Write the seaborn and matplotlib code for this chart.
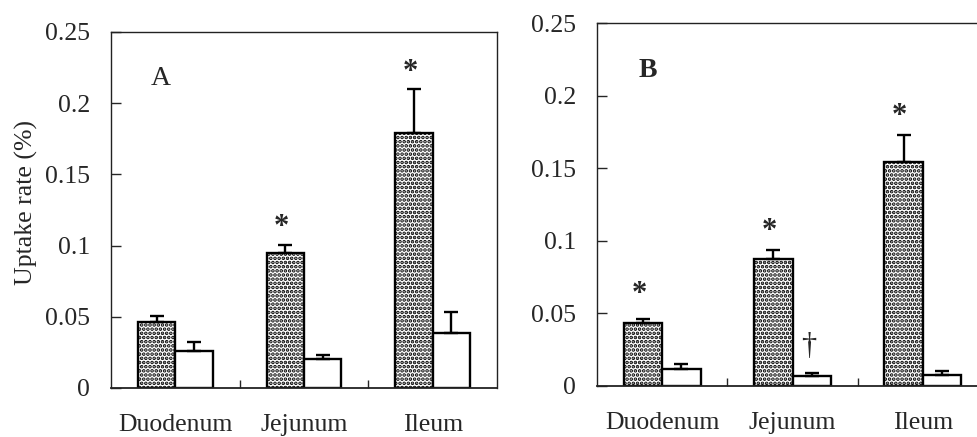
import numpy as np
import pandas as pd
import seaborn as sns
import matplotlib.pyplot as plt

# Dados
segmentos = ['Duodenum', 'Jejunum', 'Ileum']
grupos = ['pontilhado', 'branco']

# Painel A
a_media_pont = [0.0466, 0.0946, 0.1793]
a_erro_pont = [0.0040, 0.0058, 0.0310]
a_media_branco = [0.0262, 0.0204, 0.0386]
a_erro_branco = [0.0063, 0.0030, 0.0145]

# Painel B
b_media_pont = [0.0436, 0.0872, 0.1545]
b_erro_pont = [0.0025, 0.0065, 0.0184]
b_media_branco = [0.0119, 0.0071, 0.0076]
b_erro_branco = [0.0035, 0.0021, 0.0025]

# marcas de significância: (segmento, grupo, altura, símbolo)
a_marcas = [('Jejunum', 'pontilhado', 0.1125, '*'), ('Ileum', 'pontilhado', 0.2213, '*')]
b_marcas = [('Duodenum', 'pontilhado', 0.063, '*'), ('Jejunum', 'pontilhado', 0.1066, '*'),
            ('Ileum', 'pontilhado', 0.1858, '*'), ('Jejunum', 'branco', 0.027, '\u2020')]

yticks = [0, 0.05, 0.1, 0.15, 0.2, 0.25]
ytick_labels = ['0', '0.05', '0.1', '0.15', '0.2', '0.25']

sns.set_style('white')
plt.rcParams['font.family'] = ['Liberation Serif', 'DejaVu Serif']
plt.rcParams['hatch.linewidth'] = 1.8
plt.rcParams['hatch.color'] = 'black'


def montar_tabela(media_pont, media_branco, erro_pont, erro_branco):
    return pd.DataFrame({
        'segmento': segmentos * 2,
        'grupo': [grupos[0]] * 3 + [grupos[1]] * 3,
        'valor': media_pont + media_branco,
        'erro': erro_pont + erro_branco,
    })


def plotar_painel(ax, dados, marcas, letra, largura, ylabel):
    sns.barplot(data=dados, x='segmento', y='valor', hue='grupo', order=segmentos,
                hue_order=grupos, palette=['white', 'white'], edgecolor='black',
                linewidth=1.7, width=largura, errorbar=None, legend=False, ax=ax)
    # pontilhado nas barras do primeiro grupo
    n = len(segmentos)
    for i, barra in enumerate(ax.patches[:2 * n]):
        if i < n:
            barra.set_hatch('....')
    # barras de erro (apenas para cima)
    posicoes = {}
    for i, barra in enumerate(ax.patches[:2 * n]):
        g = grupos[i // n]
        s = segmentos[i % n]
        x = barra.get_x() + barra.get_width() / 2
        posicoes[(s, g)] = x
        linha = dados[(dados.segmento == s) & (dados.grupo == g)].iloc[0]
        ax.errorbar(x, linha.valor, yerr=[[0], [linha.erro]], fmt='none',
                    ecolor='black', elinewidth=1.7, capsize=5, capthick=1.7, zorder=1)
    for s, g, altura, simbolo in marcas:
        if simbolo == '*':
            ax.text(posicoes[(s, g)] - 0.03, altura, simbolo, ha='center', va='center',
                    fontsize=22, fontweight='bold')
        else:
            ax.text(posicoes[(s, g)] - 0.02, altura, simbolo, ha='center', va='center',
                    fontsize=22)
    ax.text(0.13, 0.87, letra, transform=ax.transAxes, ha='center', va='center',
            fontsize=20, fontweight='bold' if letra == 'B' else 'normal')

    ax.set_xlim(-0.5, 2.5)
    ax.set_ylim(0, 0.25)
    ax.set_yticks(yticks)
    ax.set_yticklabels(ytick_labels, fontsize=18.5)
    ax.tick_params(axis='y', direction='in', length=7, width=1, pad=15, left=True)
    ax.tick_params(axis='x', which='major', length=0, pad=19, labelsize=18.5)
    ax.set_xticks([0.5, 1.5], minor=True)
    ax.tick_params(axis='x', which='minor', direction='in', length=6, width=1, bottom=True)
    ax.set_xlabel('')
    ax.set_ylabel(ylabel, fontsize=18.5)
    for lado in ['left', 'bottom', 'top', 'right']:
        ax.spines[lado].set_visible(True)
        ax.spines[lado].set_color('#222222')
        ax.spines[lado].set_linewidth(1)
    ax.spines['bottom'].set_linewidth(1.3)


fig = plt.figure(figsize=(9.77, 4.37), dpi=100)
ax_a = fig.add_axes([111 / 977, 49 / 437, 386 / 977, 356 / 437])
ax_b = fig.add_axes([597 / 977, 51 / 437, 391 / 977, 363 / 437])

plotar_painel(ax_a, montar_tabela(a_media_pont, a_media_branco, a_erro_pont, a_erro_branco),
              a_marcas, 'A', 0.58, 'Uptake rate (%)')
plotar_painel(ax_b, montar_tabela(b_media_pont, b_media_branco, b_erro_pont, b_erro_branco),
              b_marcas, 'B', 0.59, '')
ax_a.yaxis.set_label_coords(-0.19, 0.52)

plt.savefig('out.png', format='png', dpi=100)
